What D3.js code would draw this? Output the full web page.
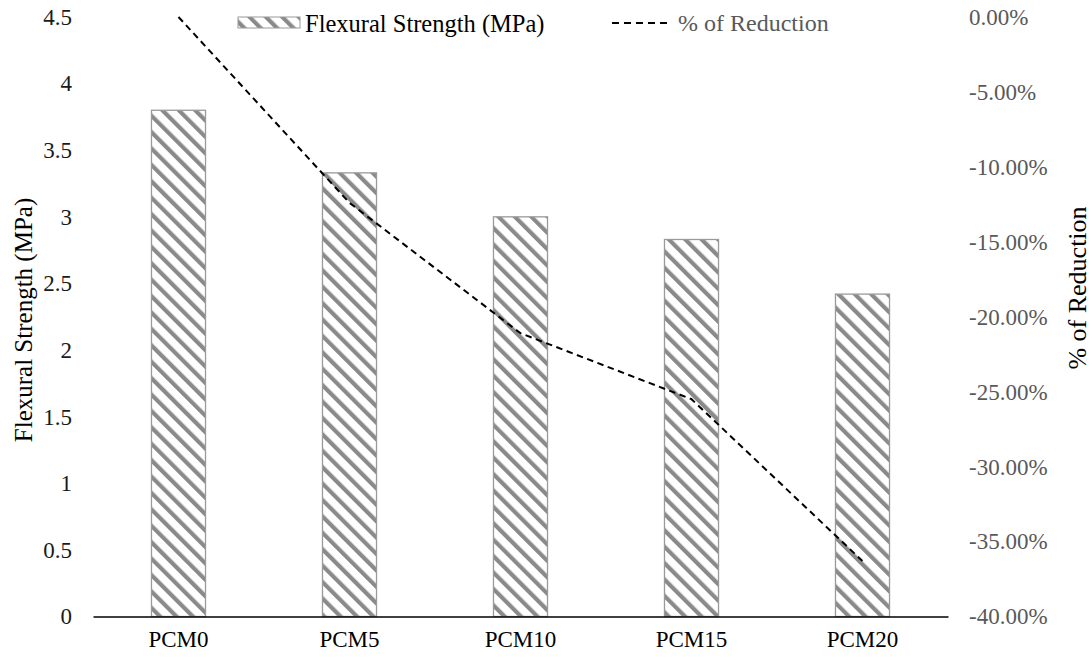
<!DOCTYPE html>
<html>
<head>
<meta charset="utf-8">
<script src="https://cdn.jsdelivr.net/npm/d3@7"></script>
<style>
  html, body { margin: 0; padding: 0; background: #fff; }
  svg { display: block; }
  svg text { font-family: "Liberation Serif", "Times New Roman", serif !important; }
</style>
</head>
<body>
<svg id="chart" width="1092" height="660"></svg>
<script>
// Mixes and measured flexural strength (MPa)
const categories = ["PCM0", "PCM5", "PCM10", "PCM15", "PCM20"];
const strength = [3.80, 3.33, 3.00, 2.83, 2.42];
// Change relative to PCM0 (fraction)
const reduction = [0, -0.124, -0.211, -0.255, -0.363];
// Axis ticks
const leftTicks = [0, 0.5, 1, 1.5, 2, 2.5, 3, 3.5, 4, 4.5];
const rightTicks = [0, -0.05, -0.10, -0.15, -0.20, -0.25, -0.30, -0.35, -0.40];

const svg = d3.select("#chart");
const plot = { left: 93, right: 948, top: 17, bottom: 616.5 };
const tickFont = 23;

const x = d3.scaleBand()
  .domain(categories)
  .range([plot.left, plot.right])
  .paddingInner(0.684)
  .paddingOuter(0.342);

const yL = d3.scaleLinear().domain([0, 4.5]).range([plot.bottom, plot.top]);
const yR = d3.scaleLinear().domain([-0.4, 0]).range([plot.bottom, plot.top]);

// Downward diagonal hatch used for bars and the legend swatch
const defs = svg.append("defs");
const period = 11.6;
const pat = defs.append("pattern")
  .attr("id", "hatch")
  .attr("patternUnits", "userSpaceOnUse")
  .attr("width", period)
  .attr("height", period)
  .attr("patternTransform", "rotate(-45)");
pat.append("rect").attr("width", period).attr("height", period).attr("fill", "#fff");
pat.append("rect").attr("x", 0).attr("y", 0)
  .attr("width", period * 0.36).attr("height", period)
  .attr("fill", "#8a8a8a");

// Bars
svg.append("g").selectAll("rect")
  .data(categories)
  .join("rect")
  .attr("x", d => x(d))
  .attr("y", (d, i) => yL(strength[i]))
  .attr("width", x.bandwidth())
  .attr("height", (d, i) => yL(0) - yL(strength[i]))
  .attr("fill", "url(#hatch)")
  .attr("stroke", "#9a9a9a")
  .attr("stroke-width", 1.3);

// Category axis line and labels
const xAxis = d3.axisBottom(x).tickSize(0).tickPadding(14);
const gx = svg.append("g")
  .attr("transform", `translate(0,${plot.bottom})`)
  .call(xAxis);
gx.select(".domain").attr("stroke", "#000").attr("stroke-width", 1.5);
gx.selectAll("text")
  .attr("font-size", tickFont)
  .attr("fill", "#000");

// Left value axis (labels only)
const yAxisL = d3.axisLeft(yL).tickValues(leftTicks).tickSize(0).tickPadding(0)
  .tickFormat(d3.format("~g"));
const gl = svg.append("g").attr("transform", "translate(72,0)").call(yAxisL);
gl.select(".domain").remove();
gl.selectAll("text")
  .attr("font-size", tickFont)
  .attr("fill", "#1a1a1a");

// Right percentage axis (labels only), plain hyphen for negatives
const pct = d3.format(".2%");
const yAxisR = d3.axisRight(yR).tickValues(rightTicks).tickSize(0).tickPadding(0)
  .tickFormat(d => pct(d).replace("\u2212", "-"));
const gr = svg.append("g").attr("transform", "translate(969,0)").call(yAxisR);
gr.select(".domain").remove();
gr.selectAll("text")
  .attr("font-size", tickFont)
  .attr("fill", "#595959");

// Dashed reduction line on the right axis
const line = d3.line()
  .x((d, i) => x(categories[i]) + x.bandwidth() / 2)
  .y(d => yR(d));
svg.append("path")
  .datum(reduction)
  .attr("d", line)
  .attr("fill", "none")
  .attr("stroke", "#000")
  .attr("stroke-width", 2)
  .attr("stroke-dasharray", "6.5,4.5");

// Axis titles
svg.append("text")
  .attr("transform", `translate(23,320) rotate(-90)`)
  .attr("text-anchor", "middle")
  .attr("dominant-baseline", "central")
  .attr("font-size", 25)
  .attr("fill", "#000")
  .text("Flexural Strength (MPa)");

svg.append("text")
  .attr("transform", `translate(1077,288) rotate(-90)`)
  .attr("text-anchor", "middle")
  .attr("dominant-baseline", "central")
  .attr("font-size", 26)
  .attr("fill", "#000")
  .text("% of Reduction");

// Legend
const lg = svg.append("g");
lg.append("rect")
  .attr("x", 238).attr("y", 17).attr("width", 62).attr("height", 11)
  .attr("fill", "url(#hatch)")
  .attr("stroke", "#9a9a9a").attr("stroke-width", 1);
lg.append("text")
  .attr("x", 305).attr("y", 23)
  .attr("dominant-baseline", "central")
  .attr("font-size", 24.5)
  .attr("fill", "#000")
  .text("Flexural Strength (MPa)");
lg.append("line")
  .attr("x1", 612).attr("x2", 668).attr("y1", 23).attr("y2", 23)
  .attr("stroke", "#000").attr("stroke-width", 2)
  .attr("stroke-dasharray", "7,5");
lg.append("text")
  .attr("x", 678).attr("y", 23)
  .attr("dominant-baseline", "central")
  .attr("font-size", 24)
  .attr("fill", "#595959")
  .text("% of Reduction");
</script>
</body>
</html>
